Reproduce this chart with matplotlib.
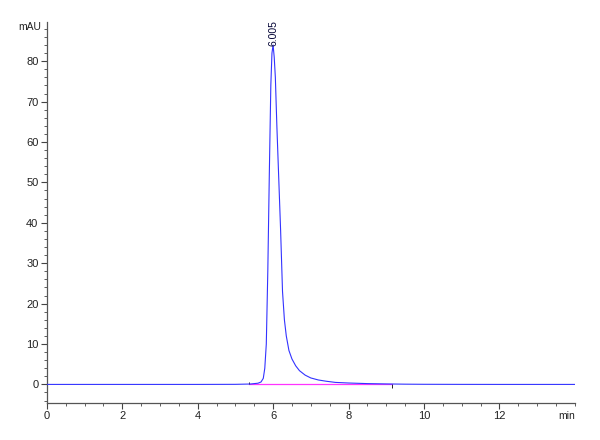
import matplotlib
matplotlib.use("Agg")
import numpy as np
from matplotlib import pyplot as plt
from matplotlib.ticker import MultipleLocator

# chromatogram trace (min, mAU)
time = [0.0, 1.0, 2.0, 3.0, 4.0, 5.0, 5.4, 5.6, 5.68, 5.74, 5.78, 5.82, 5.86,
        5.9, 5.94, 5.97, 6.0, 6.03, 6.06, 6.1, 6.15, 6.2, 6.25, 6.3, 6.35,
        6.42, 6.5, 6.6, 6.7, 6.85, 7.0, 7.2, 7.4, 7.65, 8.0, 8.5, 9.0, 9.5,
        10.0, 11.0, 12.0, 13.0, 14.0]
signal = [0.0, 0.0, 0.0, 0.0, 0.0, 0.02, 0.1, 0.3, 0.6, 1.5, 4.0, 10.0, 28.0,
          52.0, 74.0, 82.0, 84.0, 81.0, 76.0, 64.0, 51.0, 38.0, 23.0, 16.0, 12.0,
          8.4, 6.3, 4.6, 3.4, 2.3, 1.6, 1.1, 0.8, 0.5, 0.35, 0.2, 0.12, 0.06,
          0.03, 0.01, 0.0, 0.0, 0.0]

peak_time = 6.005
peak_label = "6.005"
peak_height = 84.0

# integration baseline start / end
base_start = 5.37
base_end = 9.14

xticks = [0, 2, 4, 6, 8, 10, 12]
yticks = [0, 10, 20, 30, 40, 50, 60, 70, 80]

plt.rcParams['font.family'] = ['Liberation Sans Narrow', 'Liberation Sans', 'DejaVu Sans']

fig = plt.figure(figsize=(6, 4.4), dpi=100)
ax = fig.add_axes([0.078, 0.085, 0.88, 0.865])

ax.plot([base_start, base_end], [0.05, 0.05], color='#ff33ff', lw=0.9, zorder=2)
ax.plot(time, signal, color='#3333ff', lw=0.8, zorder=3)
ax.vlines(base_start, 0, 0.7, color='#222222', lw=0.7)
ax.vlines(base_end, -0.9, 0, color='#222222', lw=0.7)

ax.text(peak_time, peak_height - 0.3, peak_label, rotation=90, ha='center', va='bottom',
        fontsize=7.5, color='#000033')

ax.set_xlim(0, 14)
ax.set_ylim(-4.5, 89.7)
ax.set_xticks(xticks)
ax.set_yticks(yticks)
ax.xaxis.set_minor_locator(MultipleLocator(0.5))
ax.yaxis.set_minor_locator(MultipleLocator(2))

for s in ['top', 'right']:
    ax.spines[s].set_visible(False)
for s in ['left', 'bottom']:
    ax.spines[s].set_color('#555555')
    ax.spines[s].set_linewidth(0.9)

ax.tick_params(which='major', length=4, width=0.8, color='#444444',
               labelsize=8, labelcolor='#222222', pad=2)
ax.tick_params(which='minor', length=2, width=0.6, color='#444444')

ax.text(-0.15, 88.4, 'mAU', ha='right', va='center', fontsize=7.5, color='#222222')
ax.text(14, -6.6, 'min', ha='right', va='top', fontsize=7.5, color='#222222')

fig.savefig('out.png', dpi=100)
